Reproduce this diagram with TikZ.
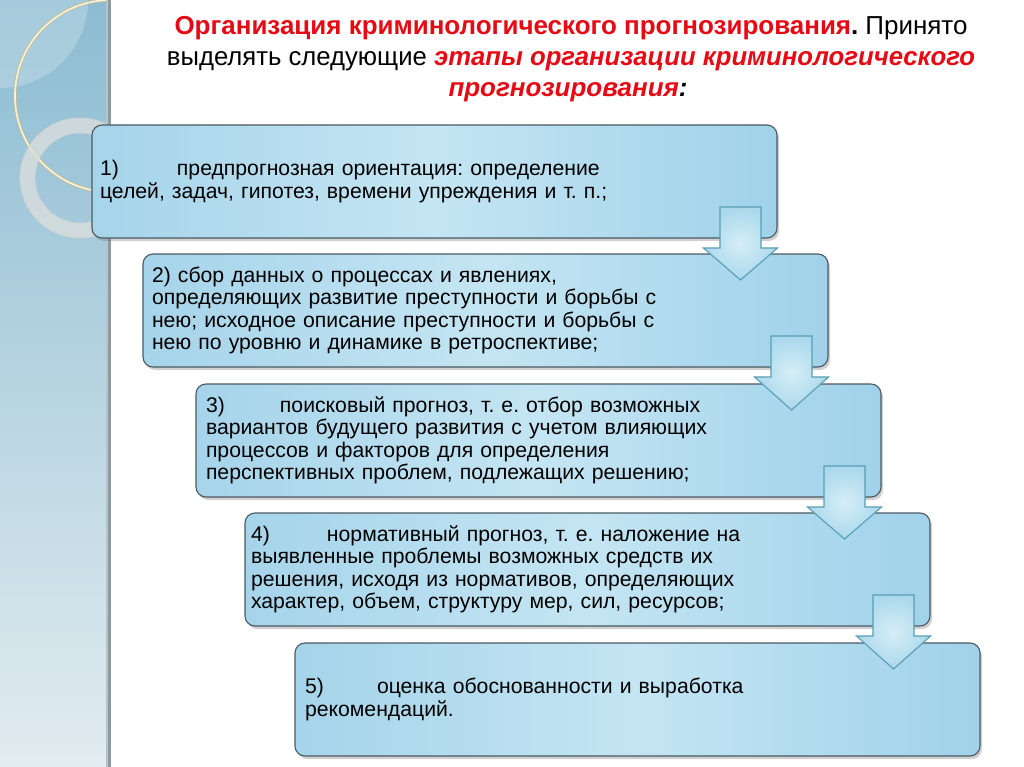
\documentclass[tikz,border=0pt]{standalone}
\usepackage{graphicx}
\usepackage{fontspec}
\setmainfont{Liberation Sans}
\usetikzlibrary{calc,shadows}
\definecolor{titlered}{RGB}{230,10,20}
\definecolor{boxborder}{RGB}{75,90,98}
\definecolor{boxL}{RGB}{166,212,234}
\definecolor{boxM}{RGB}{196,229,243}
\definecolor{boxR}{RGB}{160,210,234}
\definecolor{arrowline}{RGB}{88,158,180}
\definecolor{arrowin}{RGB}{214,238,247}
\definecolor{arrowout}{RGB}{170,216,236}
\definecolor{stripTop}{RGB}{140,188,210}
\definecolor{stripBot}{RGB}{226,236,240}
\definecolor{stripEdge}{RGB}{140,155,162}
\definecolor{ringcol}{RGB}{218,222,222}
\definecolor{creamcol}{RGB}{246,242,218}
\definecolor{creamedge}{RGB}{196,186,146}
\newcommand\numlbl[2]{\makebox[#1][l]{#2}}
\newcommand\stagearrow[2]{%
  \draw[barrow] ($(#1.south east)+(-57,-31)$) -- ($(#1.south east)+(-57,10)$)
    -- ($(#1.south east)+(-73.5,10)$) -- ($(#1.south east |- #2.north)+(-36.5,26)$)
    -- ($(#1.south east)+(0.5,10)$) -- ($(#1.south east)+(-16,10)$)
    -- ($(#1.south east)+(-16,-31)$) -- cycle;}
\frenchspacing
\begin{document}
\begin{tikzpicture}[x=1pt,y=-1pt,
  stage/.style={draw=boxborder, line width=1.1pt, rounded corners=10pt,
    left color=boxL, right color=boxR, middle color=boxM,
    minimum width=685pt, minimum height=113pt, anchor=north west,
    inner ysep=0pt, outer sep=0pt, align=left,
    font=\fontsize{21.2}{22.5}\selectfont,
    drop shadow={shadow xshift=2pt, shadow yshift=-3pt, opacity=0.3, fill=black!60}},
  barrow/.style={draw=arrowline, line width=1.1pt, inner color=arrowin,
    outer color=arrowout, line join=miter},
  titleline/.style={anchor=base, inner sep=0pt, font=\fontsize{26}{30}\selectfont}]
\useasboundingbox (0,0) rectangle (1024,767);
\fill[white] (0,0) rectangle (1024,767);
% left decorative strip
\shade[top color=stripTop, bottom color=stripBot] (0,0) rectangle (108,767);
\begin{scope}
  \clip (0,0) rectangle (108,767);
  \fill[white, opacity=0.22] (0,0) circle (88);
  \draw[creamedge, line width=3.2pt] (111,96) circle (96);
  \draw[creamcol, line width=1.7pt] (111,96) circle (96);
\end{scope}
\fill[stripEdge!60] (106,0) rectangle (108,767);
\fill[stripEdge] (108,0) rectangle (111,767);
\fill[ringcol, opacity=0.8, even odd rule] (80,178) circle (60) (80,178) circle (45);
\draw[black!18, line width=0.6pt] (80,178) circle (60) (80,178) circle (45);
% title
\node[titleline] (t1) at (571,35) {\resizebox{793pt}{\height}{\textcolor{titlered}{\bfseries Организация криминологического прогнозирования}\textbf{.} Принято}};
\node[titleline] (t2) at (571,66) {\resizebox{808pt}{\height}{выделять следующие \textcolor{titlered}{\bfseries\itshape этапы организации криминологического}}};
\node[titleline] (t3) at (568,97) {\resizebox{239pt}{\height}{\textcolor{titlered}{\bfseries\itshape прогнозирования}{\bfseries\itshape :}}};
% stages
\node[stage, inner xsep=8pt, text width=669pt] (s1) at (92,125)
  {\numlbl{77pt}{1)}предпрогнозная ориентация: определение\\целей, задач, гипотез, времени упреждения и т. п.;};
\node[stage, inner xsep=9pt, text width=667pt] (s2) at (143,254)
  {2) сбор данных о процессах и явлениях,\\определяющих развитие преступности и борьбы с\\нею; исходное описание преступности и борьбы с\\нею по уровню и динамике в ретроспективе;};
\node[stage, inner xsep=10pt, text width=665pt] (s3) at (196,384)
  {\numlbl{74pt}{3)}поисковый прогноз, т. е. отбор возможных\\вариантов будущего развития с учетом влияющих\\процессов и факторов для определения\\перспективных проблем, подлежащих решению;};
\node[stage, inner xsep=6pt, text width=673pt] (s4) at (245,513)
  {\numlbl{76pt}{4)}нормативный прогноз, т. е. наложение на\\выявленные проблемы возможных средств их\\решения, исходя из нормативов, определяющих\\характер, объем, структуру мер, сил, ресурсов;};
\node[stage, inner xsep=10pt, text width=665pt] (s5) at (295,643)
  {\numlbl{72pt}{5)}оценка обоснованности и выработка\\рекомендаций.};
% arrows
\stagearrow{s1}{s2}
\stagearrow{s2}{s3}
\stagearrow{s3}{s4}
\stagearrow{s4}{s5}
\end{tikzpicture}
\end{document}
